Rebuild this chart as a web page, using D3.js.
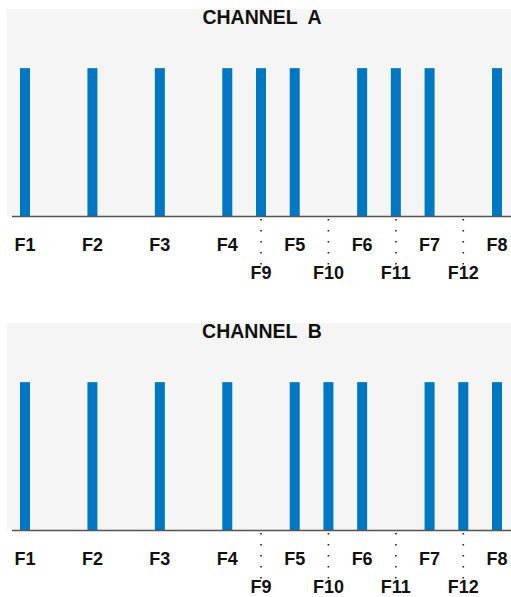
<!DOCTYPE html>
<html>
<head>
<meta charset="utf-8">
<script src="https://cdn.jsdelivr.net/npm/d3@7"></script>
<style>
  body { margin: 0; background: #fff; }
  svg { display: block; }
  .title { white-space: pre; }
</style>
</head>
<body>
<svg id="svg" width="511" height="597"></svg>
<script>
// frequency labels: main row sits on whole steps, second row between them
const mainLabels = ['F1', 'F2', 'F3', 'F4', 'F5', 'F6', 'F7', 'F8']
const midLabels = ['F9', 'F10', 'F11', 'F12']
const mainPos = [0, 1, 2, 3, 4, 5, 6, 7]
const midPos = [3.5, 4.5, 5.5, 6.5]

const channels = ['CHANNEL  A', 'CHANNEL  B']
// order: F1..F8 then F9..F12 (1 = carrier present)
const channelA = [1, 1, 1, 1, 1, 1, 1, 1, 1, 0, 1, 0]
const channelB = [1, 1, 1, 1, 1, 1, 1, 1, 0, 1, 0, 1]

const allLabels = mainLabels.concat(midLabels)
const allPos = mainPos.concat(midPos)

function drawPanel(svg, title, values, top) {
  const g = svg.append('g').attr('transform', `translate(0,${top})`)
  const axisY = 207

  const x = d3.scaleLinear().domain([0, 7]).range([25, 497])
  const y = d3.scaleLinear().domain([0, 1.4]).range([axisY, 0])

  g.append('rect')
    .attr('x', 7).attr('y', 0)
    .attr('width', 504).attr('height', axisY)
    .attr('fill', '#f5f5f5')

  g.append('text')
    .attr('class', 'title')
    .attr('x', 262).attr('y', 15)
    .attr('text-anchor', 'middle')
    .attr('font-family', 'Liberation Sans, Arial, sans-serif')
    .attr('font-weight', 'bold')
    .attr('font-size', 19.5)
    .attr('fill', '#111')
    .text(title)

  const bars = allPos.map((p, i) => ({ pos: p, v: values[i], label: allLabels[i] }))
    .filter(d => d.v > 0)

  g.selectAll('.bar')
    .data(bars)
    .enter()
    .append('rect')
    .attr('class', 'bar')
    .attr('x', d => x(d.pos) - 5)
    .attr('y', d => y(d.v))
    .attr('width', 10)
    .attr('height', d => y(0) - y(d.v))
    .attr('fill', '#0077c2')

  g.append('line')
    .attr('x1', 12).attr('x2', 511)
    .attr('y1', axisY + 0.5).attr('y2', axisY + 0.5)
    .attr('stroke', '#555')
    .attr('stroke-width', 1.5)

  // dotted leaders for the second label row
  g.selectAll('.lead')
    .data(midPos)
    .enter()
    .append('line')
    .attr('x1', d => x(d)).attr('x2', d => x(d))
    .attr('y1', axisY + 3).attr('y2', axisY + 57)
    .attr('stroke', '#222')
    .attr('stroke-width', 1.6)
    .attr('stroke-dasharray', '1.6,9.4')

  const font = g => g
    .attr('text-anchor', 'middle')
    .attr('font-family', 'Liberation Sans, Arial, sans-serif')
    .attr('font-weight', 'bold')
    .attr('font-size', 18)
    .attr('fill', '#111')

  g.selectAll('.lab1')
    .data(mainPos)
    .enter()
    .append('text')
    .attr('x', d => x(d))
    .attr('y', axisY + 35)
    .text((d, i) => mainLabels[i])
    .call(font)

  g.selectAll('.lab2')
    .data(midPos)
    .enter()
    .append('text')
    .attr('x', d => x(d))
    .attr('y', axisY + 63)
    .text((d, i) => midLabels[i])
    .call(font)
}

const svg = d3.select('#svg')
drawPanel(svg, channels[0], channelA, 9)
drawPanel(svg, channels[1], channelB, 323)
</script>
</body>
</html>
